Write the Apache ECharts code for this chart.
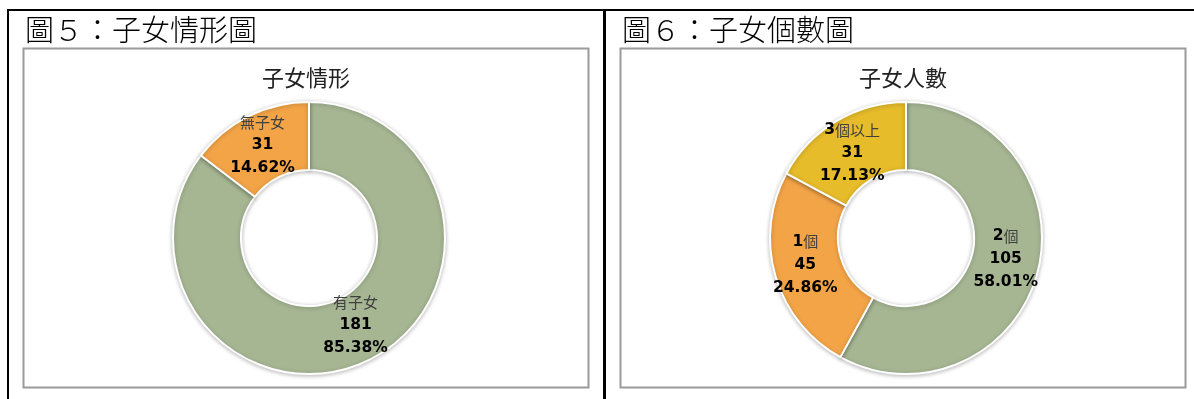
<!DOCTYPE html>
<html>
<head>
<meta charset="utf-8">
<script src="https://cdn.jsdelivr.net/npm/echarts@6/dist/echarts.min.js"></script>
<style>
html,body{margin:0;padding:0;background:#fff;}
#c{width:1194px;height:399px;}
</style>
</head>
<body>
<div id="c"></div>
<script>
// ---- data ----
const figTitles = ['圖５：子女情形圖', '圖６：子女個數圖'];
const chartTitles = ['子女情形', '子女人數'];
const leftNames = ['有子女', '無子女'];
const leftValues = [181, 31];
const rightNames = ['2個', '1個', '3個以上'];
const rightValues = [105, 45, 31];
const leftColors = ['#A6B693', '#F3A447'];
const rightColors = ['#A6B693', '#F3A447', '#E6BC2A'];

// label nudges (layout only)
const leftLabelOffsets = [[0, -7], [0, 1]];
const rightLabelOffsets = [[-2, -5], [0, -3], [0, 5]];

const chart = echarts.init(document.getElementById('c'), null, {renderer: 'canvas'});

function richName(name) {
  return name.split(/(\d+)/).filter(s => s.length).map(s =>
    /^\d+$/.test(s) ? '{d|' + s + '}' : '{n|' + s + '}').join('');
}
function labelFmt(p) {
  return richName(p.name) + '\n{d|' + p.value + '}\n{d|' + p.percent.toFixed(2) + '%}';
}
const rich = {
  n: {fontFamily: 'Noto Sans CJK TC', fontSize: 15, color: '#404040', lineHeight: 23},
  d: {fontFamily: 'DejaVu Sans', fontWeight: 'bold', fontSize: 15.5, color: '#000', lineHeight: 23}
};

function pieSeries(names, values, colors, offsets, cx) {
  return {
    type: 'pie',
    center: [cx, 238],
    radius: [68, 136],
    startAngle: 90,
    clockwise: true,
    percentPrecision: 2,
    silent: true,
    data: names.map((n, i) => ({
      name: n, value: values[i],
      itemStyle: {color: colors[i]},
      label: {offset: offsets[i]}
    })),
    itemStyle: {borderColor: '#fff', borderWidth: 2, shadowBlur: 4, shadowColor: 'rgba(0,0,0,0.25)', shadowOffsetY: 1},
    label: {show: true, position: 'inside', formatter: labelFmt, rich: rich},
    labelLine: {show: false},
    emphasis: {disabled: true}
  };
}

const graphics = [
  // table lines
  {type: 'rect', shape: {x: 7, y: 9, width: 1187, height: 2}, style: {fill: '#000'}},
  {type: 'rect', shape: {x: 7, y: 9, width: 2, height: 390}, style: {fill: '#000'}},
  {type: 'rect', shape: {x: 603, y: 9, width: 3, height: 390}, style: {fill: '#000'}},
  // chart boxes
  {type: 'rect', shape: {x: 23.5, y: 48.5, width: 565, height: 339}, style: {fill: 'none', stroke: '#9a9a9a', lineWidth: 2}},
  {type: 'rect', shape: {x: 620.5, y: 48.5, width: 565, height: 339}, style: {fill: 'none', stroke: '#9a9a9a', lineWidth: 2}},
  // figure titles
  {type: 'text', x: 25, y: 30, style: {text: figTitles[0], fontFamily: 'Noto Sans CJK TC', fontSize: 29, fontWeight: 300, fill: '#000', align: 'left', verticalAlign: 'middle'}},
  {type: 'text', x: 622, y: 30, style: {text: figTitles[1], fontFamily: 'Noto Sans CJK TC', fontSize: 29, fontWeight: 300, fill: '#000', align: 'left', verticalAlign: 'middle'}},
  // chart titles
  {type: 'text', x: 306, y: 78, style: {text: chartTitles[0], fontFamily: 'Noto Sans CJK TC', fontSize: 22, fill: '#222', align: 'center', verticalAlign: 'middle'}},
  {type: 'text', x: 903, y: 78, style: {text: chartTitles[1], fontFamily: 'Noto Sans CJK TC', fontSize: 22, fill: '#222', align: 'center', verticalAlign: 'middle'}}
];

chart.setOption({
  backgroundColor: '#fff',
  animation: false,
  graphic: graphics,
  series: [
    pieSeries(leftNames, leftValues, leftColors, leftLabelOffsets, 309),
    pieSeries(rightNames, rightValues, rightColors, rightLabelOffsets, 906)
  ]
});
</script>
</body>
</html>
